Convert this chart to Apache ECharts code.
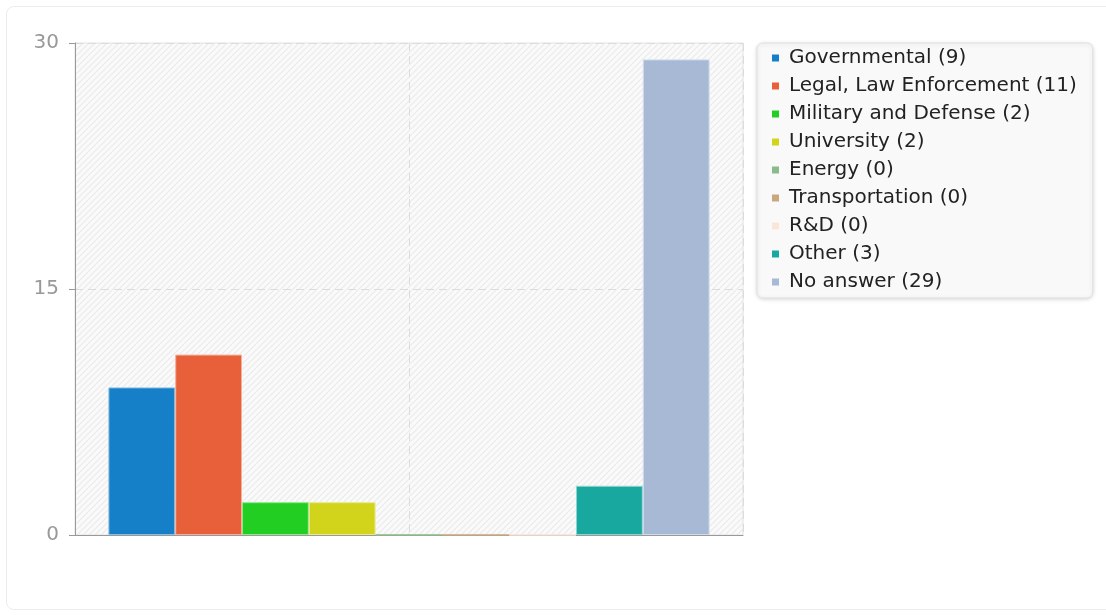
<!DOCTYPE html>
<html>
<head>
<meta charset="utf-8">
<script src="https://cdn.jsdelivr.net/npm/echarts@6/dist/echarts.min.js"></script>
<style>
  html, body { margin: 0; padding: 0; background: #fff; }
  #card {
    position: absolute; left: 6px; top: 6px; width: 1110px; height: 604px;
    border: 1px solid #ececec; border-radius: 8px; box-sizing: border-box;
  }
  #main { position: absolute; left: 0; top: 0; width: 1106px; height: 615px; }
</style>
</head>
<body>
<div id="card"></div>
<div id="main"></div>
<script>
var names = ['Governmental', 'Legal, Law Enforcement', 'Military and Defense', 'University',
  'Energy', 'Transportation', 'R&D', 'Other', 'No answer'];
var counts = [9, 11, 2, 2, 0, 0, 0, 3, 29];
var colors = ['#1580c8', '#e8603a', '#22ce22', '#d2d41c', '#8bbb8a', '#c9a87e', '#fbe5d9', '#18a8a0', '#a7b9d4'];
var edges = ['#8ac0e4', '#f4b09d', '#90e790', '#e9ea8e', '#8bbb8a', '#c9a87e', '#fbe5d9', '#8cd4d0', '#d3dcea'];
var yTicks = [0, 15, 30];

// hatched background for the plot
function hatch() {
  var c = document.createElement('canvas');
  c.width = 6; c.height = 6;
  var ctx = c.getContext('2d');
  ctx.fillStyle = '#fafafa';
  ctx.fillRect(0, 0, 6, 6);
  ctx.strokeStyle = '#ebebeb';
  ctx.lineWidth = 1.2;
  ctx.beginPath();
  ctx.moveTo(-1, 7); ctx.lineTo(7, -1);
  ctx.moveTo(-1, 1); ctx.lineTo(1, -1);
  ctx.moveTo(5, 7); ctx.lineTo(7, 5);
  ctx.stroke();
  return { image: c, repeat: 'repeat' };
}

var myChart = echarts.init(document.getElementById('main'));

var series = [];
for (let i in names) {
  series.push({
    name: names[i] + ' (' + counts[i] + ')',
    type: 'bar',
    data: [counts[i]],
    barGap: '0%',
    barCategoryGap: '10%',
    itemStyle: {
      color: colors[i],
      borderColor: edges[i],
      borderWidth: 1
    },
    emphasis: { disabled: true }
  });
}

myChart.setOption({
  animation: false,
  textStyle: { fontFamily: 'DejaVu Sans' },
  grid: {
    left: 75,
    right: 363,
    top: 43,
    bottom: 80,
    show: true,
    borderColor: '#e2e2e2',
    borderWidth: 1,
    backgroundColor: hatch()
  },
  legend: {
    orient: 'vertical',
    left: 757,
    top: 43,
    padding: [5, 16, 6, 15],
    itemWidth: 7,
    itemHeight: 7,
    itemGap: 8,
    icon: 'rect',
    itemStyle: { borderWidth: 0 },
    backgroundColor: '#f9f9f9',
    borderColor: '#e0e0e0',
    borderWidth: 1,
    borderRadius: 6,
    shadowBlur: 4,
    shadowColor: 'rgba(0,0,0,0.15)',
    shadowOffsetY: 1,
    textStyle: { fontSize: 20, color: '#222', lineHeight: 20, padding: [0, 0, 0, 5] },
    selectedMode: false
  },
  xAxis: [{
    type: 'category',
    data: [''],
    axisLine: { lineStyle: { color: '#999' } },
    axisTick: { show: false },
    axisLabel: { show: false },
    splitLine: { show: false }
  }, {
    // only used for the dashed centre line
    type: 'value',
    position: 'bottom',
    min: 0,
    max: 2,
    interval: 1,
    axisLine: { show: false },
    axisTick: { show: false },
    axisLabel: { show: false },
    splitLine: { show: true, lineStyle: { type: [8, 5], color: '#dcdcdc' } }
  }],
  yAxis: {
    type: 'value',
    min: yTicks[0],
    max: yTicks[yTicks.length - 1],
    interval: yTicks[1] - yTicks[0],
    axisLine: { show: true, lineStyle: { color: '#999' } },
    axisTick: { show: true, length: 6, lineStyle: { color: '#999' } },
    axisLabel: { fontSize: 20, color: '#999', margin: 16 },
    splitLine: { lineStyle: { type: [8, 5], color: '#dcdcdc' } }
  },
  series: series
});
</script>
</body>
</html>
